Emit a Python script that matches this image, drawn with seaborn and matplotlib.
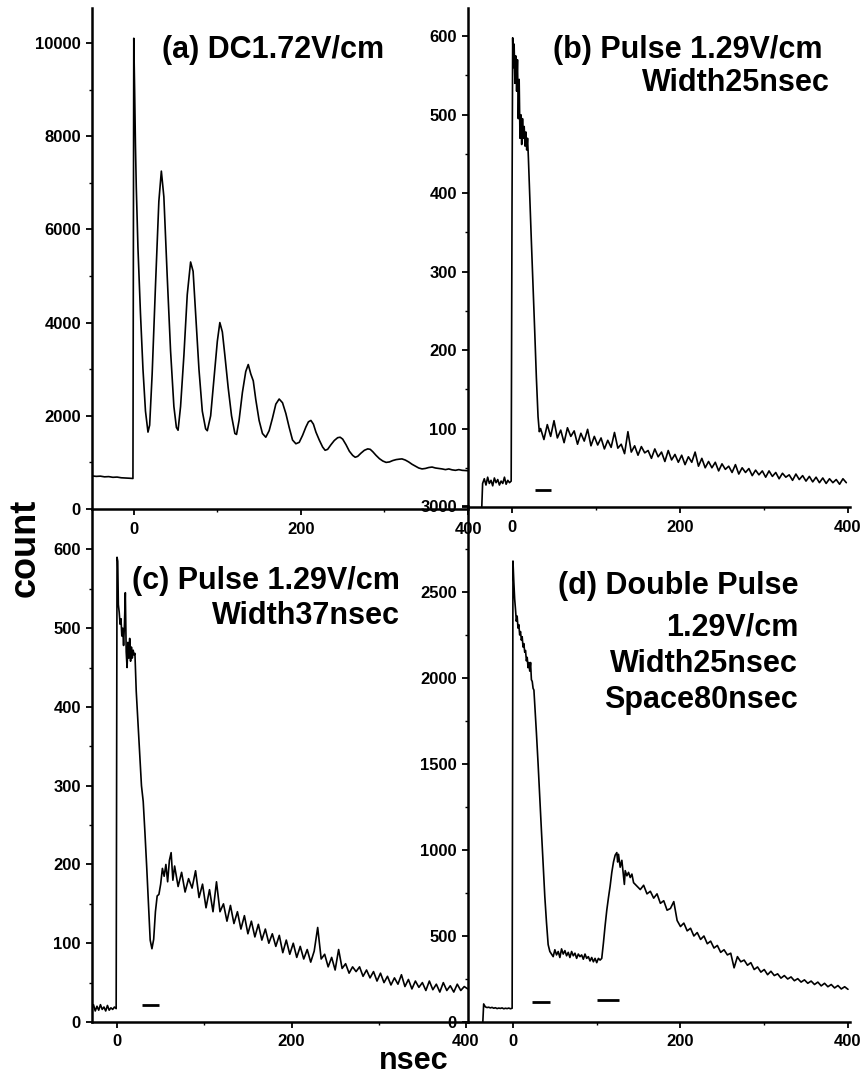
"""Four transient count spectra (a)-(d), redrawn from a scanned figure."""

import matplotlib

matplotlib.use("Agg")
import matplotlib.pyplot as plt
import seaborn as sns

sns.set_theme(style="ticks")
plt.rcParams["font.family"] = ["Liberation Sans", "DejaVu Sans"]
plt.rcParams["font.weight"] = "bold"

W, H = 863, 1077

# ---- (a) DC 1.72 V/cm : damped oscillation --------------------------------
t_a = [-50, -45, -40, -35, -30, -25, -20, -15, -10, -5, -1,
       0, 1, 2, 3, 5, 8, 11, 14, 17,
       19, 22, 26, 30, 33, 36, 40, 44, 48, 51, 53,
       56, 60, 64, 68, 71, 74, 78, 82, 86, 88,
       92, 96, 100, 103, 106, 109, 113, 117, 121, 123,
       126, 130, 134, 137, 140, 143, 146, 150, 154, 158,
       162, 166, 170, 174, 178, 182, 186, 190, 194, 198,
       202, 206, 209, 212, 215, 218, 222, 226, 229, 232,
       236, 240, 244, 247, 250, 254, 258, 262, 265, 268,
       272, 276, 280, 283, 286, 290, 294, 298, 302, 306,
       310, 314, 318, 321, 325, 329, 333, 337, 341, 345,
       349, 353, 357, 361, 365, 369, 373, 377, 381, 385, 389, 393, 397, 401]
count_a = [710, 700, 705, 690, 695, 680, 685, 670, 665, 660, 655,
           10100, 9000, 7800, 6900, 5600, 4200, 3000, 2100, 1650,
           1800, 2900, 4800, 6600, 7250, 6700, 5000, 3400, 2200, 1750, 1690,
           2200, 3300, 4600, 5300, 5100, 4200, 3000, 2100, 1720, 1680,
           2000, 2800, 3600, 4000, 3800, 3300, 2600, 2000, 1620, 1600,
           1900, 2500, 2950, 3100, 2900, 2750, 2350, 1900, 1620, 1540,
           1680, 1950, 2250, 2360, 2280, 2050, 1750, 1480, 1400, 1430,
           1580, 1760, 1870, 1900, 1820, 1650, 1480, 1330, 1260, 1280,
           1380, 1470, 1530, 1540, 1500, 1380, 1240, 1150, 1110, 1130,
           1200, 1260, 1290, 1280, 1230, 1150, 1080, 1030, 1000, 1010,
           1040, 1060, 1070, 1075, 1050, 1010, 960, 920, 880, 860,
           870, 890, 900, 880, 870, 860, 845, 860, 840, 830, 845, 830, 825, 820]

# ---- (b) single pulse 1.29 V/cm, width 25 ns ------------------------------
t_b = [-36, -35, -33, -31, -29, -27, -25, -23, -21, -19, -17, -15, -13,
       -11, -9, -7, -5, -3, -1,
       0, 0.8, 1.5, 2.5, 3.5, 4.5, 5.5, 6.5, 7.5, 8.5, 9.5, 10.5, 11.5,
       12.5, 13.5, 14.5, 15.5, 16.5, 17.5, 18.5, 19.5,
       21, 23, 25, 27, 29, 31, 32.5] + list(range(34, 399, 4))
count_b = [0, 30, 36, 28, 38, 30, 34, 27, 37, 31, 35, 28, 33,
           30, 38, 29, 34, 31, 33,
           380, 598, 560, 590, 540, 575, 530, 570, 495, 545, 470, 500, 462,
           495, 470, 485, 460, 478, 455, 470, 445,
           400, 340, 284, 225, 165, 115, 96,
           100, 86, 105, 90, 110, 88, 98, 82, 101, 90, 97, 80, 94, 84, 99, 78,
           90, 79, 88, 74, 85, 76, 95, 75, 80, 68, 96, 70, 78, 66, 77, 69,
           72, 62, 74, 64, 70, 58, 72, 60, 67, 57, 66, 54, 64, 57, 70, 52,
           62, 50, 58, 50, 57, 46, 55, 48, 52, 44, 54, 42, 50, 44, 49, 40,
           47, 41, 46, 38, 46, 39, 44, 36, 43, 38, 41, 34, 42, 35, 40, 33,
           39, 32, 38, 31, 37, 30, 36, 31, 35, 29, 36, 31]

# ---- (c) single pulse 1.29 V/cm, width 37 ns ------------------------------
t_c = [-28.5, -27, -25, -23, -21, -19, -17, -15, -13, -11, -9, -7, -5, -3, -1,
       0, 0.8, 1.5, 2.5, 3.5, 4.5, 5.5, 6.5, 7.5, 8.5, 9.5, 10.5, 11.5,
       12.5, 13.5, 14.5, 15.5, 16.5, 17.5, 18.5, 19.5, 20.5,
       22, 24, 26, 28, 30, 32, 34, 36, 38, 40, 42, 44, 46, 48, 50, 52,
       54, 56, 58, 60, 62, 64] + list(range(66, 403, 4))
count_c = [18, 22, 14, 20, 15, 22, 16, 19, 14, 21, 15, 18, 16, 19, 17,
           590, 585, 530, 520, 505, 512, 490, 500, 478, 505, 545, 470, 450,
           482, 462, 487, 458, 476, 462, 472, 466, 468,
           420, 380, 340, 300, 280, 240, 197, 150, 104, 93, 105, 140, 160,
           162, 175, 195, 185, 200, 178, 205, 215, 180,
           198, 172, 190, 165, 182, 170, 192, 158, 175, 145, 168, 140, 178,
           140, 150, 128, 148, 125, 140, 118, 135, 112, 128, 108, 124, 104,
           118, 100, 112, 96, 110, 88, 104, 86, 100, 82, 96, 80, 92, 76, 90,
           120, 80, 86, 70, 82, 66, 92, 68, 74, 62, 70, 64, 70, 58, 66, 56,
           64, 52, 62, 50, 58, 47, 56, 48, 60, 45, 54, 42, 52, 44, 50, 40,
           52, 41, 48, 38, 50, 40, 46, 38, 48, 40, 45, 42]

# ---- (d) double pulse 1.29 V/cm, width 25 ns, spacing 80 ns ---------------
t_d = [-36, -35, -33, -31, -29, -27, -25, -23, -21, -19, -17, -15, -13,
       -11, -9, -7, -5, -3, -1,
       0, 1, 2, 3, 4, 5, 6, 7, 8, 9, 10, 11, 12, 13, 14, 15, 16, 17, 18,
       19, 20, 21, 22, 23, 24, 25, 26, 28, 30, 32, 34, 36, 38, 40, 42, 44,
       46, 48, 50, 52, 54, 56, 58, 60, 62, 64, 66, 68, 70, 72, 74, 76, 78,
       80, 82, 84, 86, 88, 90, 92, 94, 96, 98, 100, 102, 104, 106,
       108, 110, 112, 114, 116, 118, 120, 122, 124, 125, 126, 128, 130,
       132, 133, 134, 136, 138, 140, 142, 144] + list(range(148, 401, 4))
count_d = [0, 105, 88, 84, 86, 82, 85, 80, 83, 78, 81, 79, 82,
           77, 80, 78, 81, 77, 80,
           2680, 2560, 2460, 2400, 2330, 2360, 2290, 2310, 2250, 2270, 2220,
           2240, 2180, 2200, 2150, 2160, 2100, 2120, 2060, 2090, 2040, 2090,
           1990, 1980, 1940, 1930, 1850, 1680, 1500, 1300, 1110, 920, 730,
           580, 450, 410,
           395, 380, 420, 390, 410, 375, 425, 395, 415, 385, 405, 375, 410,
           385, 400, 370, 395, 380, 390, 365, 395, 370, 380, 355, 375, 350,
           370, 345, 370, 360, 370,
           460, 560, 650, 723, 790, 870, 930, 970, 985, 930, 975, 900, 940,
           850, 800, 880, 850, 870, 840, 860, 810,
           790, 770, 795, 745, 760, 720, 745, 690, 705, 650, 660, 700, 590,
           555, 575, 530, 545, 500, 520, 480, 500, 455, 470, 430, 445, 405,
           420, 390, 400, 315, 380, 350, 360, 330, 345, 305, 320, 290, 305,
           275, 295, 270, 280, 255, 270, 250, 262, 240, 252, 232, 245, 225,
           238, 218, 232, 210, 225, 205, 218, 198, 212, 192, 205, 190]

# pulse timing markers: (start ns, end ns, height)
pulse_b = [(27, 47, 22)]
pulse_c = [(28.5, 47.8, 21)]
pulse_d = [(22.5, 44.6, 117), (100, 127, 128)]

title_a = "(a) DC1.72V/cm"
titles_b = ["(b) Pulse 1.29V/cm", "Width25nsec"]
titles_c = ["(c) Pulse 1.29V/cm", "Width37nsec"]
titles_d = ["(d) Double Pulse", "1.29V/cm", "Width25nsec", "Space80nsec"]


def add_panel(fig, box, t, counts, xlim, ylim, yticks, ylabels, pulses=()):
    left, right, top, bottom = box
    ax = fig.add_axes([left / W, 1 - bottom / H, (right - left) / W, (bottom - top) / H])
    ax.patch.set_alpha(0)
    sns.lineplot(x=t, y=counts, ax=ax, color="black", linewidth=1.2,
                 estimator=None, sort=False)
    for x0, x1, h in pulses:
        ax.hlines(h, x0, x1, color="black", linewidth=2.0)
    ax.set_xlim(*xlim)
    ax.set_ylim(*ylim)
    ax.set_xticks([0, 200, 400])
    ax.set_xticks([100, 300], minor=True)
    ax.set_yticks(yticks)
    ax.set_yticklabels(ylabels)
    ax.set_yticks([(a + b) / 2 for a, b in zip(yticks[:-1], yticks[1:])], minor=True)
    for side in ("top", "right"):
        ax.spines[side].set_visible(False)
    for side in ("left", "bottom"):
        ax.spines[side].set_color("black")
        ax.spines[side].set_linewidth(1.8)
    ax.tick_params(axis="both", which="major", direction="out", length=4,
                   width=1.3, colors="black", labelsize=12)
    ax.tick_params(axis="x", which="major", pad=5)
    ax.tick_params(axis="y", which="major", pad=4)
    ax.tick_params(axis="both", which="minor", direction="out", length=2.5,
                   width=1.0, colors="black")
    for lab in ax.get_xticklabels() + ax.get_yticklabels():
        lab.set_fontweight("bold")
    ax.set_xlabel("")
    ax.set_ylabel("")
    ax.grid(False)
    return ax


fig = plt.figure(figsize=(W / 100, H / 100), dpi=100)

add_panel(fig, (92, 468, 8, 509), t_a, count_a, (-50, 400), (0, 10750),
          [0, 2000, 4000, 6000, 8000, 10000],
          ["0", "2000", "4000", "6000", "8000", "10000"])
add_panel(fig, (92, 468, 510, 1022), t_c, count_c, (-28.7, 402.3), (0, 650),
          [0, 100, 200, 300, 400, 500, 600],
          ["0", "100", "200", "300", "400", "500", "600"], pulse_c)
add_panel(fig, (468, 850, 506, 1022), t_d, count_d, (-53.7, 402.4), (0, 3000),
          [0, 500, 1000, 1500, 2000, 2500, 3000],
          ["0", "500", "1000", "1500", "2000", "2500", "3000"], pulse_d)
add_panel(fig, (468, 850, 8, 507), t_b, count_b, (-52.4, 402.4), (0, 636),
          [0, 100, 200, 300, 400, 500, 600],
          ["", "100", "200", "300", "400", "500", "600"], pulse_b)


def put(text, x, y, ha="left", size=22):
    fig.text(x / W, 1 - y / H, text, ha=ha, va="center", fontsize=size,
             fontweight="bold", color="black")


put(title_a, 162, 50)
put(titles_b[0], 553, 50)
put(titles_b[1], 642, 83)
put(titles_c[0], 132, 581)
put(titles_c[1], 212, 616)
for line, y in zip(titles_d, [586, 627, 664, 700]):
    put(line, 798, y, ha="right")

fig.text(25 / W, 1 - 548 / H, "count", rotation=90, ha="center", va="center",
         fontsize=26, fontweight="bold", color="black")
fig.text(414 / W, 1 / H, "nsec", ha="center", va="bottom",
         fontsize=22, fontweight="bold", color="black")

fig.savefig("out.png", dpi=100, facecolor="white")
